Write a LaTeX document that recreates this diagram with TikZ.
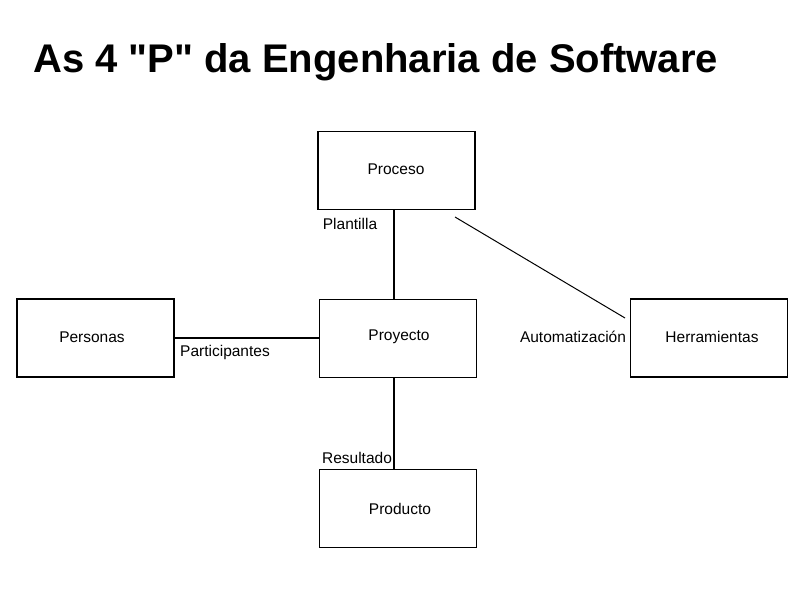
\documentclass[tikz,border=0pt]{standalone}
\usepackage{fontspec}
\setmainfont{Liberation Sans}[Ligatures=TeXOff]
\begin{document}
\begin{tikzpicture}[x=1pt,y=-1pt,
  pbox/.style={draw,line width=1.6pt,minimum width=157pt,minimum height=78pt,inner sep=0pt},
  lbl/.style={font=\fontsize{15.5}{18}\selectfont,inner sep=0pt},
  conn/.style={line width=1.2pt}]
\useasboundingbox (0,0) rectangle (794,595);
\node[anchor=base west,font=\fontsize{40}{44}\bfseries,inner sep=0pt] (title) at (33,72) {As 4 "P" da Engenharia de Software};
\node[pbox] (proceso) at (396.5,170.5) {};
\node[lbl] (tproceso) at (396,169) {Proceso};
\node[pbox] (personas) at (95.5,338) {};
\node[lbl] (tpersonas) at (92,337) {Personas};
\node[pbox] (proyecto) at (398,338.5) {};
\node[lbl] (tproyecto) at (399,337) {Proyecto};
\node[pbox] (herr) at (709,338) {};
\node[lbl] (therr) at (712,337) {Herramientas};
\node[pbox] (producto) at (398,508.5) {};
\node[lbl] (tproducto) at (400,509) {Producto};
\coordinate (dA) at (455,217);
\coordinate (dB) at (625,318);
\draw[conn] (proceso.south -| 394,0) -- (proyecto.north -| 394,0);
\draw[conn] (proyecto.south -| 394,0) -- (producto.north -| 394,0);
\draw[conn] (personas.east |- 0,338) -- (proyecto.west |- 0,338);
\draw[line width=1pt] (dA) -- (dB);
\node[lbl] (lplant) at (350,224) {Plantilla};
\node[lbl] (lpart) at (225,352) {Participantes};
\node[lbl] (lres) at (357,458) {Resultado};
\node[lbl] (lauto) at (573,337) {Automatización};
\end{tikzpicture}
\end{document}
